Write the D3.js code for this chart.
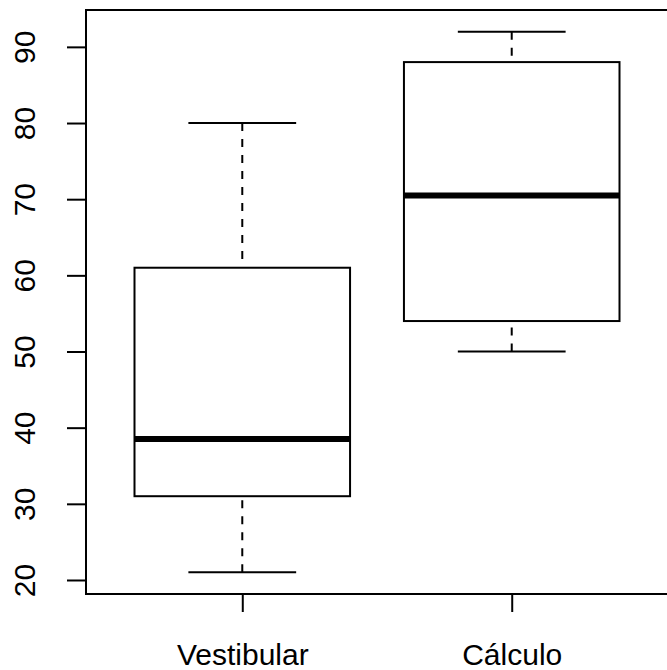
<!DOCTYPE html>
<html>
<head>
<meta charset="utf-8">
<script src="https://cdn.jsdelivr.net/npm/d3@7"></script>
<style>
  body { margin: 0; background: #fff; }
  svg { display: block; }
</style>
</head>
<body>
<svg id="chart" width="667" height="670"></svg>
<script>
// boxplot stats
const groups = ["Vestibular", "Cálculo"];
const mins = [21, 50];
const q1s = [31, 54];
const medians = [38.5, 70.5];
const q3s = [61, 88];
const maxs = [80, 92];
const yTicks = [20, 30, 40, 50, 60, 70, 80, 90];

const svg = d3.select("#chart");
const width = 667;
const height = 670;
const margin = { top: 10, right: -1, bottom: 76, left: 86 };
const fontSize = 30;

const data = groups.map((g, i) => ({
  name: g,
  pos: i + 1,
  min: mins[i],
  q1: q1s[i],
  median: medians[i],
  q3: q3s[i],
  max: maxs[i]
}));

// R style axis extension: 4% on each side
const yLo = d3.min(mins), yHi = d3.max(maxs);
const yPad = (yHi - yLo) * 0.04;
const y = d3
  .scaleLinear()
  .domain([yLo - yPad, yHi + yPad])
  .range([height - margin.bottom, margin.top]);

const xPad = (groups.length + 0.5 - 0.5) * 0.04;
const x = d3
  .scaleLinear()
  .domain([0.5 - xPad, groups.length + 0.5 + xPad])
  .range([margin.left, width - margin.right]);

const yAxis = g =>
  g
    .attr("transform", `translate(${margin.left},0)`)
    .call(d3.axisLeft(y).tickValues(yTicks).tickSize(19).tickSizeOuter(0))
    .call(g => g.select(".domain").remove())
    .call(g => g.selectAll(".tick line").attr("stroke", "#000").attr("stroke-width", 2))
    .call(g =>
      g
        .selectAll(".tick text")
        .attr("transform", "rotate(-90)")
        .attr("x", 0)
        .attr("y", -51.5)
        .attr("dy", 0)
        .attr("text-anchor", "middle")
        .attr("fill", "#000")
        .style("font-family", "'Liberation Sans', Arial, sans-serif")
        .style("font-size", fontSize + "px")
    );

const xAxis = g =>
  g
    .attr("transform", `translate(0,${height - margin.bottom})`)
    .call(
      d3
        .axisBottom(x)
        .tickValues(data.map(d => d.pos))
        .tickFormat((d, i) => groups[i])
        .tickSize(18)
        .tickSizeOuter(0)
    )
    .call(g => g.select(".domain").remove())
    .call(g => g.selectAll(".tick line").attr("stroke", "#000").attr("stroke-width", 2))
    .call(g =>
      g
        .selectAll(".tick text")
        .attr("y", 71)
        .attr("dy", 0)
        .attr("fill", "#000")
        .style("font-family", "'Liberation Sans', Arial, sans-serif")
        .style("font-size", fontSize + "px")
    );

svg.append("g").call(yAxis);
svg.append("g").call(xAxis);

const boxHalf = 0.4;
const capHalf = 0.2;

const box = svg
  .append("g")
  .selectAll("g")
  .data(data)
  .join("g")
  .attr("fill", "none")
  .attr("stroke", "#000");

// whiskers, drawn from the extremes toward the box like R does
box
  .append("line")
  .attr("x1", d => x(d.pos))
  .attr("x2", d => x(d.pos))
  .attr("y1", d => y(d.min))
  .attr("y2", d => y(d.q1))
  .attr("stroke-width", 2)
  .attr("stroke-dasharray", "8,8");

box
  .append("line")
  .attr("x1", d => x(d.pos))
  .attr("x2", d => x(d.pos))
  .attr("y1", d => y(d.max))
  .attr("y2", d => y(d.q3))
  .attr("stroke-width", 2)
  .attr("stroke-dasharray", "8,8");

// staples
box
  .selectAll(".cap")
  .data(d => [{ pos: d.pos, v: d.min }, { pos: d.pos, v: d.max }])
  .join("line")
  .attr("class", "cap")
  .attr("x1", d => x(d.pos - capHalf))
  .attr("x2", d => x(d.pos + capHalf))
  .attr("y1", d => y(d.v))
  .attr("y2", d => y(d.v))
  .attr("stroke-width", 2);

box
  .append("rect")
  .attr("x", d => x(d.pos - boxHalf))
  .attr("width", d => x(d.pos + boxHalf) - x(d.pos - boxHalf))
  .attr("y", d => y(d.q3))
  .attr("height", d => y(d.q1) - y(d.q3))
  .attr("stroke-width", 2);

box
  .append("line")
  .attr("x1", d => x(d.pos - boxHalf))
  .attr("x2", d => x(d.pos + boxHalf))
  .attr("y1", d => y(d.median))
  .attr("y2", d => y(d.median))
  .attr("stroke-width", 6);

// plot frame
svg
  .append("rect")
  .attr("x", margin.left)
  .attr("y", margin.top)
  .attr("width", width - margin.right - margin.left)
  .attr("height", height - margin.bottom - margin.top)
  .attr("fill", "none")
  .attr("stroke", "#000")
  .attr("stroke-width", 2);
</script>
</body>
</html>
